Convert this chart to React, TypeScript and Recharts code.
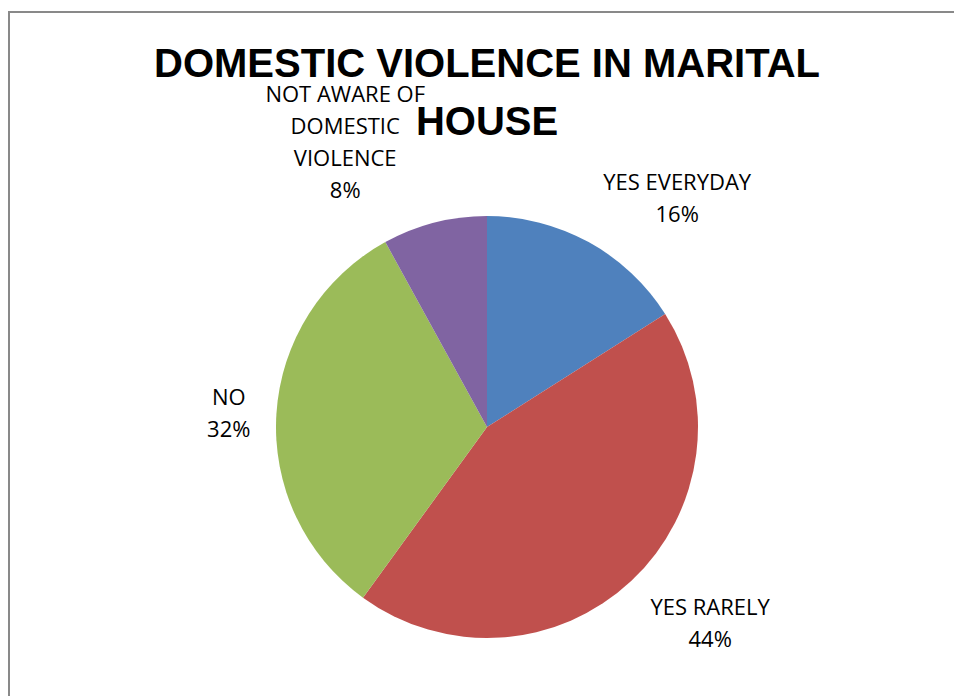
import { PieChart, Pie, Cell, Customized } from "recharts";

const categories = ["YES EVERYDAY", "YES RARELY", "NO", "NOT AWARE OF DOMESTIC VIOLENCE"];
const shares = [16, 44, 32, 8];
const colors = ["#4F81BD", "#C0504D", "#9BBB59", "#8064A2"];
const titleLines = ["DOMESTIC VIOLENCE IN MARITAL", "HOUSE"];

const data = categories.map((name, i) => ({ name, value: shares[i] }));

const LABEL_FAMILY = "Open Sans";
const LABEL_SIZE = 22;
const LINE_H = 32;

function wrap(text: string, max = 13) {
  const out: string[] = [];
  let cur = "";
  for (const w of text.split(" ")) {
    const next = cur ? cur + " " + w : w;
    if (next.length > max && cur) {
      out.push(cur);
      cur = w;
    } else cur = next;
  }
  if (cur) out.push(cur);
  return out;
}

let ctx: CanvasRenderingContext2D | null = null;
function measure(s: string) {
  if (!ctx) ctx = document.createElement("canvas").getContext("2d");
  if (!ctx) return s.length * 12;
  ctx.font = `${LABEL_SIZE}px "${LABEL_FAMILY}"`;
  return ctx.measureText(s).width;
}

// label box sits outside the slice, pushed sideways by its own width
const renderLabel = (props: any) => {
  const { cx, cy, midAngle, outerRadius, name, percent } = props;
  const lines = [...wrap(name), `${Math.round(percent * 100)}%`];
  const w = Math.max(...lines.map(measure));
  const h = lines.length * LINE_H;
  const a = (midAngle * Math.PI) / 180;
  const cos = Math.cos(a);
  const sin = Math.sin(a);
  const R = outerRadius + 22;
  const x = cx + cos * R + Math.sign(cos) * (w / 2 + 4);
  const y = cy - sin * (R + h / 2);
  const top = y - h / 2;
  return (
    <text textAnchor="middle" fill="#000" fontFamily={LABEL_FAMILY} fontSize={LABEL_SIZE}>
      {lines.map((l, i) => (
        <tspan key={i} x={x} y={top + i * LINE_H + 27}>
          {l}
        </tspan>
      ))}
    </text>
  );
};

const Frame = () => (
  <g>
    <rect x={9} y={12} width={1200} height={1200} fill="none" stroke="#898989" strokeWidth={2} />
    <text textAnchor="middle" fill="#000" fontFamily="Liberation Sans" fontWeight="bold" fontSize={40}>
      {titleLines.map((l, i) => (
        <tspan key={i} x={487} y={77 + i * 58}>
          {l}
        </tspan>
      ))}
    </text>
  </g>
);

export default function App() {
  return (
    <div style={{ position: "absolute", left: 0, top: 0, width: 954, height: 696, background: "#fff" }}>
      <PieChart width={954} height={696} margin={{ top: 0, right: 0, bottom: 0, left: 0 }}>
        <Customized component={Frame} />
        <Pie
          data={data}
          dataKey="value"
          nameKey="name"
          cx={487}
          cy={427}
          outerRadius={211}
          startAngle={90}
          endAngle={-270}
          stroke="none"
          label={renderLabel}
          labelLine={false}
          isAnimationActive={false}
        >
          {data.map((d, i) => (
            <Cell key={d.name} fill={colors[i]} />
          ))}
        </Pie>
      </PieChart>
    </div>
  );
}
